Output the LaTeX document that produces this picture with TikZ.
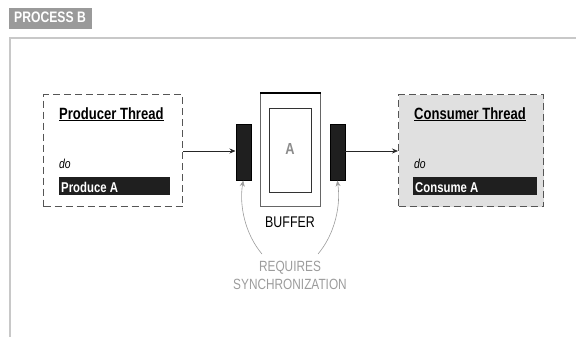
\documentclass[tikz,border=0pt]{standalone}
\usepackage{fontspec}
\setmainfont{Liberation Sans}[FakeStretch=0.8]
\usetikzlibrary{arrows.meta}
\definecolor{framegray}{HTML}{C8C8C8}
\definecolor{tagGray}{HTML}{9A9A9A}
\definecolor{dashgray}{HTML}{555555}
\definecolor{consfill}{HTML}{E0E0E0}
\definecolor{syncgray}{HTML}{9C9C9C}
\definecolor{bufgray}{HTML}{666666}
\begin{document}
\begin{tikzpicture}[x=1pt,y=-1pt,
  threadbox/.style={draw=dashgray, line width=1.2pt, dash pattern=on 7pt off 4pt, minimum width=139pt, minimum height=112pt, inner sep=0pt},
  titletext/.style={anchor=base west, inner sep=0pt, font=\bfseries\fontsize{16.3}{18}\selectfont},
  dotext/.style={anchor=base west, inner sep=0pt, font=\itshape\fontsize{13}{15}\selectfont},
  blackbar/.style={fill=black!88, inner sep=0pt, minimum height=18pt},
  bartext/.style={anchor=base west, inner sep=0pt, text=white, font=\bfseries\fontsize{14.2}{16}\selectfont},
  lockbar/.style={fill=black!88, draw=black, line width=0.5pt, minimum width=15pt, minimum height=56pt, inner sep=0pt},
  flow/.style={-{Stealth[length=6pt,width=5pt]}, line width=0.7pt, black!85},
  syncarrow/.style={-{Stealth[length=6pt,width=5pt]}, line width=0.6pt, syncgray},
  synctext/.style={inner sep=0pt, text=syncgray, font=\fontsize{14.8}{17}\selectfont}
]
\useasboundingbox (0,0) rectangle (576,337);
% header tag
\node[fill=tagGray, minimum width=83pt, minimum height=21pt, inner sep=0pt, anchor=north west] (tag) at (9,8) {};
\node[anchor=base west, inner sep=0pt, text=white, font=\bfseries\fontsize{15.2}{17}\selectfont] (tagtext) at (14,23) {PROCESS B};
% frame
\draw[framegray, line width=2pt] (10,337) -- (10,38) -- (576,38);
% producer
\node[threadbox, anchor=north west] (prod) at (43,94) {};
\node[titletext] (prodtitle) at (59,119) {\underline{Producer Thread}};
\node[dotext] (proddo) at (59,168) {do};
\node[blackbar, minimum width=111pt, anchor=north west] (prodbar) at (59,177) {};
\node[bartext] (prodbartext) at (61,192) {Produce A};
% consumer
\node[threadbox, fill=consfill, minimum width=145pt, anchor=north west] (cons) at (398,94) {};
\node[titletext] (constitle) at (414,119) {\underline{Consumer Thread}};
\node[dotext] (consdo) at (414,168) {do};
\node[blackbar, minimum width=124pt, anchor=north west] (consbar) at (413,177) {};
\node[bartext] (consbartext) at (415,192) {Consume A};
% buffer
\node[draw=bufgray, line width=1pt, minimum width=60pt, minimum height=113pt, inner sep=0pt, anchor=north west] (buf) at (260,93) {};
\draw[black, line width=2pt] (buf.north west) -- (buf.north east);
\node[draw=black!80, line width=0.8pt, minimum width=42pt, minimum height=84pt, inner sep=0pt, anchor=north west] (bufin) at (269,108) {};
\node[inner sep=0pt, text=black!45, font=\bfseries\fontsize{16}{18}\selectfont] (bufA) at (290,148.5) {A};
\node[anchor=base, inner sep=0pt, font=\fontsize{15.5}{17}\selectfont] (buflabel) at (290,227.5) {BUFFER};
% lock bars
\node[lockbar, anchor=north west] (lockL) at (235.5,124) {};
\node[lockbar, anchor=north west] (lockR) at (329.5,124) {};
% flows
\draw[flow] (prod.east |- 0,151) -- (lockL.west |- 0,151);
\draw[flow] (lockR.east |- 0,151) -- (cons.west |- 0,151);
% synchronization
\node[synctext, anchor=base] (req) at (290,271) {REQUIRES};
\node[synctext, anchor=base] (sync) at (290,289) {SYNCHRONIZATION};
\coordinate (cl) at (262,254);
\coordinate (cr) at (318,254);
\draw[syncarrow] (cl) .. controls (245,234) and (239,205) .. (lockL.south);
\draw[syncarrow] (cr) .. controls (335,234) and (341,205) .. (lockR.south);
\end{tikzpicture}
\end{document}
